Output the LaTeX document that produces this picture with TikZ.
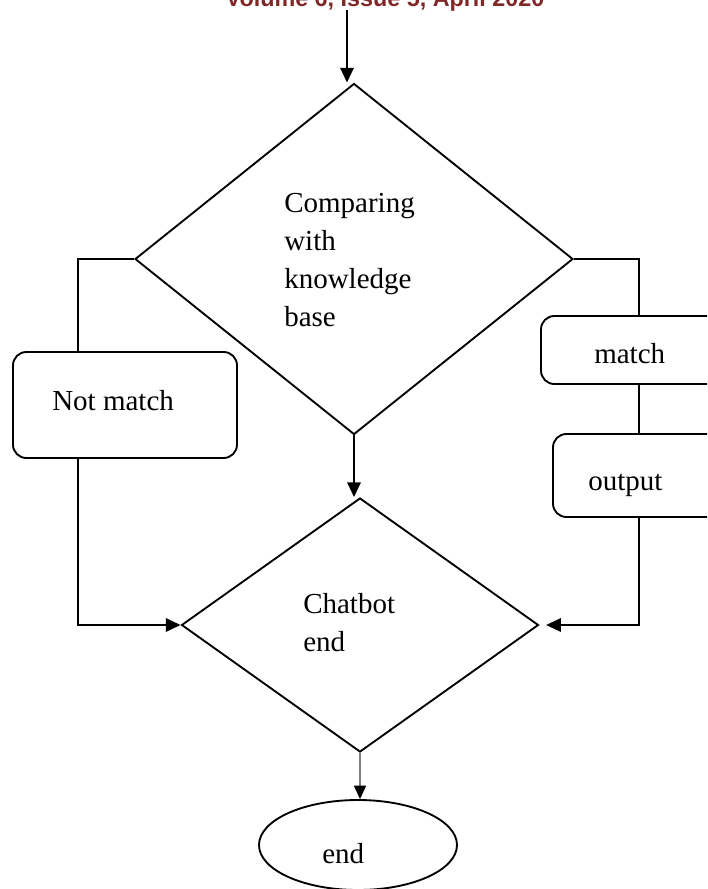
\documentclass[tikz,border=0pt]{standalone}
\usepackage{fontspec}
\setmainfont{Liberation Serif}
\newfontfamily\headfont{Liberation Sans}
\usepackage{xcolor}
\usetikzlibrary{shapes.geometric}
\usetikzlibrary{arrows.meta}
\definecolor{headred}{RGB}{128,40,40}

\tikzset{
  flowline/.style={line width=1.4pt},
  flowarrow/.style={line width=1.4pt, -{Triangle[length=11pt,width=10pt]}},
  greyarrow/.style={line width=0.8pt, color=gray, -{Triangle[length=10pt,width=9pt,color=black]}},
  roundbox/.style={draw, rectangle, line width=1.4pt, rounded corners=10pt, inner sep=0pt},
  lbl/.style={inner sep=0pt, anchor=base west, align=left, font=\fontsize{21.75}{28.5}\selectfont},
}

\begin{document}
\begin{tikzpicture}[x=0.75pt, y=-0.75pt]
\useasboundingbox (0,0) rectangle (707,889);
\clip (0,0) rectangle (707,889);

% running head, cut off at the top
\node[anchor=base, inner sep=0pt, text=headred, font=\headfont\bfseries\fontsize{17.5}{20}\selectfont] (head) at (385,6) {Volume 6, Issue 5, April 2020};

% decisions
\node[draw, diamond, line width=1.4pt, inner sep=0pt, minimum width=328.5pt, minimum height=263.25pt] (cmp) at (354,259) {};
\node[draw, diamond, line width=1.4pt, inner sep=0pt, minimum width=267.75pt, minimum height=190.5pt] (fin) at (360,625) {};
\node[draw, ellipse, line width=1.4pt, inner sep=0pt, minimum width=148.5pt, minimum height=67.5pt] (stop) at (358,845) {};

% boxes
\node[roundbox, minimum width=168pt, minimum height=79.5pt] (nomatch) at (125,405) {};
\node[roundbox, minimum width=153pt, minimum height=51pt] (match) at (643,350) {};
\node[roundbox, minimum width=144pt, minimum height=62.25pt] (output) at (649,475.5) {};

% texts (base = last line)
\node[lbl] (cmptxt) at (284,326) {Comparing\\with\\knowledge\\base};
\node[lbl] (fintxt) at (303,651) {Chatbot\\end};
\node[lbl] (nomatchtxt) at (52,410) {Not match};
\node[lbl] (matchtxt) at (594,363) {match};
\node[lbl] (outputtxt) at (588,490) {output};
\node[lbl] (stoptxt) at (322,863) {end};

\coordinate (in) at (347,10);
\coordinate (lft) at (78,0);
\coordinate (rgt) at (639,0);

\draw[flowarrow] (in) -- (in |- cmp.north);
\draw[flowline] (cmp.west) -- (cmp.west -| lft) -- (nomatch.north -| lft);
\draw[flowarrow] (nomatch.south -| lft) |- (fin.west);
\draw[flowline] (cmp.east) -- (cmp.east -| rgt) -- (match.north -| rgt);
\draw[flowline] (match.south -| rgt) -- (output.north -| rgt);
\draw[flowarrow, shorten >=5pt] (output.south -| rgt) |- (fin.east);
\draw[flowarrow] (cmp.south) -- (cmp.south |- fin.north);
\draw[greyarrow] (fin.south) -- (fin.south |- stop.north);
\end{tikzpicture}
\end{document}
